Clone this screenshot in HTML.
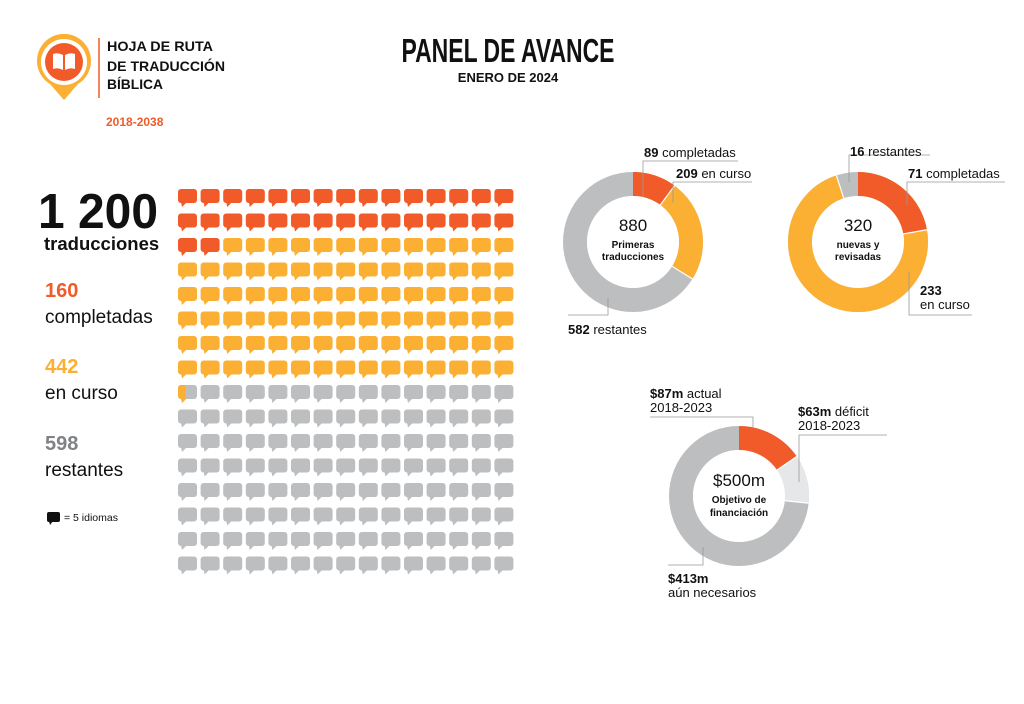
<!DOCTYPE html>
<html><head><meta charset="utf-8"><style>
html,body{margin:0;padding:0;background:#fff;}
svg{display:block;font-family:"Liberation Sans",sans-serif;}
</style></head><body>
<svg id="s" width="1024" height="704" viewBox="0 0 1024 704" xmlns="http://www.w3.org/2000/svg">
<!-- logo -->
<path d="M64 100 L50 84 A27 27 0 1 1 78 84 Z" fill="#fbb034"/>
<circle cx="64" cy="62" r="23" fill="#fff"/>
<circle cx="64" cy="62" r="19" fill="#f15a29"/>
<path d="M53 54 Q58 52 63 55 L63 70 Q58 67 53 69 Z M65 55 Q70 52 75 54 L75 69 Q70 67 65 70 Z" fill="#fff"/>
<line x1="99" y1="38" x2="99" y2="98" stroke="#f15a29" stroke-width="1.5"/>
<g font-weight="bold" font-size="14" fill="#111">
<text x="107" y="51" textLength="106" lengthAdjust="spacingAndGlyphs">HOJA DE RUTA</text>
<text x="107" y="71" textLength="118" lengthAdjust="spacingAndGlyphs">DE TRADUCCIÓN</text>
<text x="107" y="89" textLength="56" lengthAdjust="spacingAndGlyphs">BÍBLICA</text>
</g>
<text x="106" y="126" font-size="12" font-weight="bold" fill="#f15a29">2018-2038</text>
<!-- title -->
<text x="508" y="62" font-size="33" font-weight="bold" text-anchor="middle" textLength="213" lengthAdjust="spacingAndGlyphs" fill="#111">PANEL DE AVANCE</text>
<text x="508" y="82" font-size="13" font-weight="bold" text-anchor="middle" fill="#111">ENERO DE 2024</text>
<!-- left stats -->
<text x="38" y="228" font-size="49" font-weight="bold" fill="#111" textLength="120" lengthAdjust="spacingAndGlyphs">1 200</text>
<text x="44" y="250" font-size="18.5" font-weight="bold" fill="#111">traducciones</text>
<text x="45" y="297" font-size="20" font-weight="bold" fill="#f15a29">160</text>
<text x="45" y="323" font-size="19" fill="#111">completadas</text>
<text x="45" y="373" font-size="20" font-weight="bold" fill="#fbb034">442</text>
<text x="45" y="399" font-size="19" fill="#111">en curso</text>
<text x="45" y="450" font-size="20" font-weight="bold" fill="#808285">598</text>
<text x="45" y="476" font-size="19" fill="#111">restantes</text>
<rect x="47" y="512" width="13" height="10" rx="2" fill="#111"/><path d="M49 521 L53 521 L50 525 Z" fill="#111"/>
<text x="64" y="521" font-size="10.5" fill="#111">= 5 idiomas</text>
<g id="grid"></g>
<defs><clipPath id="pc"><rect x="178" y="380" width="7.6" height="25"/></clipPath></defs>
<!-- donut 1 -->
<g transform="rotate(-90 633 242)" fill="none" stroke-width="24">
<circle cx="633" cy="242" r="58" stroke="#bcbec0"/>
<circle cx="633" cy="242" r="58" stroke="#fbb034" stroke-dasharray="123.4 400"/>
<circle cx="633" cy="242" r="58" stroke="#f15a29" stroke-dasharray="36.86 400"/>
</g>
<g stroke="#fff" stroke-width="1.2">
<line x1="633" y1="242" x2="633" y2="170" transform="rotate(36.4 633 242)"/>
<line x1="633" y1="242" x2="633" y2="170" transform="rotate(121.9 633 242)"/>
</g>
<circle cx="633" cy="242" r="46" fill="#fff"/>
<text x="633" y="231" font-size="17" text-anchor="middle" fill="#111">880</text>
<text x="633" y="248" font-size="10" font-weight="bold" text-anchor="middle" fill="#111">Primeras</text>
<text x="633" y="260" font-size="10" font-weight="bold" text-anchor="middle" fill="#111">traducciones</text>
<g stroke="#999" stroke-width="0.8" fill="none">
<path d="M643 197 V161 H738"/><path d="M673 203 V182 H752"/><path d="M608 298 V315 H568"/>
</g>
<text x="644" y="157" font-size="13" fill="#111"><tspan font-weight="bold">89</tspan> completadas</text>
<text x="676" y="178" font-size="13" fill="#111"><tspan font-weight="bold">209</tspan> en curso</text>
<text x="568" y="334" font-size="13" fill="#111"><tspan font-weight="bold">582</tspan> restantes</text>
<!-- donut 2 -->
<g transform="rotate(-90 858 242)" fill="none" stroke-width="24">
<circle cx="858" cy="242" r="58" stroke="#bcbec0"/>
<circle cx="858" cy="242" r="58" stroke="#fbb034" stroke-dasharray="346.2 400"/>
<circle cx="858" cy="242" r="58" stroke="#f15a29" stroke-dasharray="80.86 400"/>
</g>
<g stroke="#fff" stroke-width="1.2">
<line x1="858" y1="242" x2="858" y2="170" transform="rotate(79.9 858 242)"/>
<line x1="858" y1="242" x2="858" y2="170" transform="rotate(342 858 242)"/>
</g>
<circle cx="858" cy="242" r="46" fill="#fff"/>
<text x="858" y="231" font-size="17" text-anchor="middle" fill="#111">320</text>
<text x="858" y="248" font-size="10" font-weight="bold" text-anchor="middle" fill="#111">nuevas y</text>
<text x="858" y="260" font-size="10" font-weight="bold" text-anchor="middle" fill="#111">revisadas</text>
<g stroke="#999" stroke-width="0.8" fill="none">
<path d="M849 182 V155 H930"/><path d="M907 205 V182 H1005"/><path d="M909 272 V315 H972"/>
</g>
<text x="850" y="156" font-size="13" fill="#111"><tspan font-weight="bold">16</tspan> restantes</text>
<text x="908" y="178" font-size="13" fill="#111"><tspan font-weight="bold">71</tspan> completadas</text>
<text x="920" y="295" font-size="13" font-weight="bold" fill="#111">233</text>
<text x="920" y="309" font-size="13" fill="#111">en curso</text>
<!-- donut 3 -->
<g transform="rotate(-90 739 496)" fill="none" stroke-width="24">
<circle cx="739" cy="496" r="58" stroke="#bcbec0"/>
<circle cx="739" cy="496" r="58" stroke="#e6e7e8" stroke-dasharray="97.1 400"/>
<circle cx="739" cy="496" r="58" stroke="#f15a29" stroke-dasharray="56.3 400"/>
</g>
<g stroke="#fff" stroke-width="1.2">
<line x1="739" y1="496" x2="739" y2="424" transform="rotate(55.6 739 496)"/>
<line x1="739" y1="496" x2="739" y2="424" transform="rotate(95.9 739 496)"/>
</g>
<circle cx="739" cy="496" r="46" fill="#fff"/>
<text x="739" y="486" font-size="17" text-anchor="middle" fill="#111">$500m</text>
<text x="739" y="503" font-size="10" font-weight="bold" text-anchor="middle" fill="#111">Objetivo de</text>
<text x="739" y="516" font-size="10" font-weight="bold" text-anchor="middle" fill="#111">financiación</text>
<g stroke="#999" stroke-width="0.8" fill="none">
<path d="M753 428 V417 H650"/><path d="M799 482 V435 H887"/><path d="M703 547 V565 H668"/>
</g>
<text x="650" y="398" font-size="13" fill="#111"><tspan font-weight="bold">$87m</tspan> actual</text>
<text x="650" y="412" font-size="13" fill="#111">2018-2023</text>
<text x="798" y="416" font-size="13" fill="#111"><tspan font-weight="bold">$63m</tspan> déficit</text>
<text x="798" y="430" font-size="13" fill="#111">2018-2023</text>
<text x="668" y="583" font-size="13" font-weight="bold" fill="#111">$413m</text>
<text x="668" y="597" font-size="13" fill="#111">aún necesarios</text>
</svg>
<script>
var g=document.getElementById('grid'),h='';
for(var r=0;r<16;r++)for(var c=0;c<15;c++){
 var i=r*15+c,x=178+c*22.6,y=189+r*24.5,col=i<32?'#f15a29':(i<120?'#fbb034':'#bcbec0');
 var b='<rect x="'+x+'" y="'+y+'" width="19" height="14" rx="3"/><path d="M'+(x+3)+' '+(y+13)+' L'+(x+9)+' '+(y+13)+' L'+(x+4)+' '+(y+18)+' Z"/>';
 h+='<g fill="'+col+'">'+b+'</g>';
 if(i==120)h+='<g fill="#fbb034" clip-path="url(#pc)">'+b+'</g>';
}
g.innerHTML=h;
</script>
</body></html>
